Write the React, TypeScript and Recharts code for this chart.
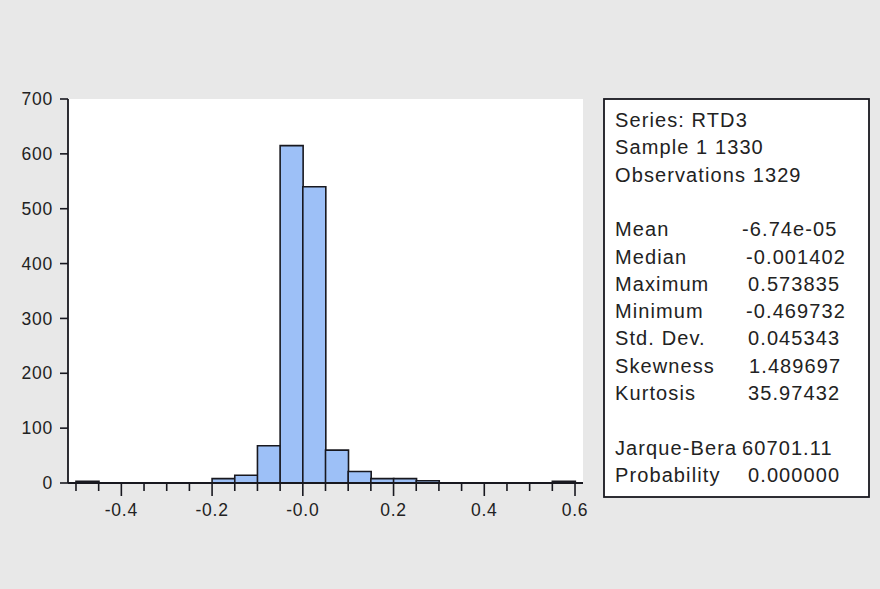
import { BarChart, Bar, XAxis, YAxis, CartesianGrid } from 'recharts'

// histogram bins (0.05 wide)
const binMid = [
  -0.475, -0.425, -0.375, -0.325, -0.275, -0.225, -0.175, -0.125, -0.075, -0.025, 0.025,
  0.075, 0.125, 0.175, 0.225, 0.275, 0.325, 0.375, 0.425, 0.475, 0.525, 0.575,
]
const binCount = [3, 0, 0, 0, 0, 0, 8, 14, 68, 615, 540, 60, 21, 8, 8, 4, 0, 0, 0, 0, 0, 3]

const yTicks = [0, 100, 200, 300, 400, 500, 600, 700]
const xTicks = [
  -0.5, -0.45, -0.4, -0.35, -0.3, -0.25, -0.2, -0.15, -0.1, -0.05, 0, 0.05, 0.1, 0.15, 0.2,
  0.25, 0.3, 0.35, 0.4, 0.45, 0.5, 0.55, 0.6,
]
const majorTicks = [-0.4, -0.2, 0, 0.2, 0.4, 0.6]
const majorLabels = ['-0.4', '-0.2', '-0.0', '0.2', '0.4', '0.6']

const statsHeader = ['Series: RTD3', 'Sample 1 1330', 'Observations 1329']
const statsLabels = ['Mean', 'Median', 'Maximum', 'Minimum', 'Std. Dev.', 'Skewness', 'Kurtosis']
const statsValues = ['-6.74e-05', '-0.001402', '0.573835', '-0.469732', '0.045343', '1.489697', '35.97432']
const testLabels = ['Jarque-Bera', 'Probability']
const testValues = ['60701.11', '0.000000']

const data = binMid.map((mid, i) => ({ mid, count: binCount[i] }))

const FONT = '"Liberation Sans", Arial, sans-serif'
const INK = '#18181f'
const TEXT = '#222'

// x offsets of the value column (EViews pads them a little unevenly)
const valueX = [742, 746, 748, 746, 748, 749, 748]
const testValueX = [742, 748]

function XTick(props: any) {
  const { x, y, payload } = props
  const i = majorTicks.findIndex((v) => Math.abs(v - payload.value) < 1e-9)
  const major = i >= 0
  return (
    <g>
      <line x1={x} x2={x} y1={y} y2={y + (major ? 13 : 8)} stroke={INK} strokeWidth={1.6} />
      {major && (
        <text
          x={x}
          y={y + 33}
          textAnchor="middle"
          fill={TEXT}
          fontSize={17.5}
          fontFamily={FONT}
          letterSpacing={0.8}
        >
          {majorLabels[i]}
        </text>
      )}
    </g>
  )
}

function StatsBox() {
  const lh = 27.3
  const top = 127
  return (
    <svg width={880} height={589} style={{ position: 'absolute', left: 0, top: 0 }}>
      <rect x={604} y={99} width={265} height={398} fill="#fff" stroke={INK} strokeWidth={1.8} />
      <g fill={TEXT} fontSize={20} fontFamily={FONT} letterSpacing={1.1}>
        {statsHeader.map((t, i) => (
          <text key={t} x={615} y={top + i * lh}>
            {t}
          </text>
        ))}
        {statsLabels.map((t, i) => (
          <text key={t} x={615} y={top + (i + 4) * lh}>
            {t}
          </text>
        ))}
        {statsValues.map((t, i) => (
          <text key={t + i} x={valueX[i]} y={top + (i + 4) * lh}>
            {t}
          </text>
        ))}
        {testLabels.map((t, i) => (
          <text key={t} x={615} y={top + (i + 12) * lh}>
            {t}
          </text>
        ))}
        {testValues.map((t, i) => (
          <text key={t + i} x={testValueX[i]} y={top + (i + 12) * lh}>
            {t}
          </text>
        ))}
      </g>
    </svg>
  )
}

export default function App() {
  const domain: [number, number] = [-0.5176, 0.6176]
  return (
    <div style={{ position: 'relative', width: 880, height: 589, background: '#e8e8e8' }}>
      <style>{'body{margin:0}'}</style>
      <div style={{ position: 'absolute', left: 0, top: 0 }}>
        <BarChart
          width={600}
          height={545}
          data={data}
          margin={{ top: 99, right: 17, left: 0, bottom: 17 }}
          barCategoryGap={0}
          barGap={0}
        >
          <CartesianGrid fill="#fff" horizontal={false} vertical={false} />
          <XAxis
            dataKey="mid"
            type="number"
            domain={domain}
            allowDataOverflow
            ticks={xTicks}
            interval={0}
            tickSize={0}
            tickMargin={0}
            tickLine={false}
            height={45}
            axisLine={{ stroke: INK, strokeWidth: 1.8 }}
            tick={<XTick />}
          />
          <XAxis
            xAxisId="top"
            orientation="top"
            type="number"
            domain={domain}
            allowDataOverflow
            height={0}
            tick={false}
            tickLine={false}
            axisLine={{ stroke: INK, strokeWidth: 1.8 }}
          />
          <YAxis
            type="number"
            domain={[0, 700]}
            allowDataOverflow
            ticks={yTicks}
            interval={0}
            width={68}
            tickSize={8}
            tickMargin={7}
            tickLine={{ stroke: INK, strokeWidth: 1.6 }}
            axisLine={{ stroke: INK, strokeWidth: 1.8 }}
            tick={{ fill: TEXT, fontSize: 17.5, fontFamily: FONT, letterSpacing: 0.8 }}
          />
          <YAxis
            yAxisId="right"
            orientation="right"
            type="number"
            domain={[0, 700]}
            width={0}
            tick={false}
            tickLine={false}
            axisLine={{ stroke: INK, strokeWidth: 1.8 }}
          />
          <Bar
            dataKey="count"
            fill="#9dc0f7"
            stroke={INK}
            strokeWidth={1.6}
            isAnimationActive={false}
          />
        </BarChart>
      </div>
      <StatsBox />
    </div>
  )
}
